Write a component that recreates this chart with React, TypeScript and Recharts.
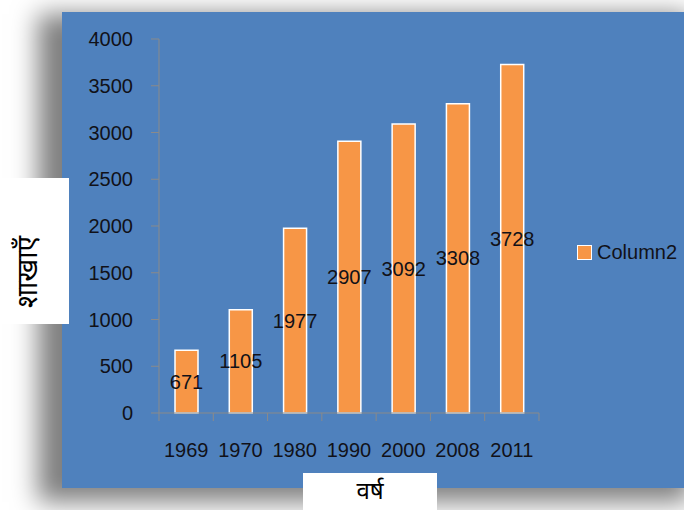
import { BarChart, Bar, XAxis, YAxis, Legend, LabelList } from 'recharts'

const years = ['1969', '1970', '1980', '1990', '2000', '2008', '2011']
const branches = [671, 1105, 1977, 2907, 3092, 3308, 3728]
const yTicks = [0, 500, 1000, 1500, 2000, 2500, 3000, 3500, 4000]
const seriesName = 'Column2'
const yTitle = 'शाखाएँ'
const xTitle = 'वर्ष'

const data = years.map((year, i) => ({ year, value: branches[i] }))

const FONT = '"Liberation Sans", Arial, sans-serif'
const HINDI = '"Noto Sans Devanagari", "Noto Sans", sans-serif'
const TEXT = '#111118'
const AXIS = '#8a8a8a'

function YearTick(props: any) {
  const { x, y, payload, index } = props
  const half = payload.offset ?? 0
  const axisY = y - 30
  const last = index === years.length - 1
  return (
    <g>
      <line x1={x - half} x2={x - half} y1={axisY} y2={axisY + 8} stroke={AXIS} />
      {last && <line x1={x + half} x2={x + half} y1={axisY} y2={axisY + 8} stroke={AXIS} />}
      <text x={x} y={y} dy="0.71em" textAnchor="middle" fill={TEXT} fontSize={20} fontFamily={FONT}>
        {payload.value}
      </text>
    </g>
  )
}

function LegendBox(props: any) {
  const item = props.payload?.[0]
  return (
    <div style={{ display: 'flex', alignItems: 'center', fontFamily: FONT, fontSize: 20, color: TEXT }}>
      <span
        style={{
          display: 'inline-block',
          width: 13,
          height: 13,
          background: '#f79646',
          border: '1px solid #fff',
          marginRight: 5,
        }}
      />
      {item ? item.value : seriesName}
    </div>
  )
}

export default function App() {
  return (
    <div style={{ position: 'absolute', left: 0, top: 0, width: 684, height: 510, background: '#fff', overflow: 'hidden' }}>
      <div
        style={{
          position: 'absolute',
          left: 62,
          top: 12,
          width: 640,
          height: 476,
          background: '#4f81bd',
          boxShadow: '-18px 8px 24px 6px rgba(0,0,0,0.5)',
        }}
      />
      <div style={{ position: 'absolute', left: 0, top: 0 }}>
        <BarChart
          width={684}
          height={510}
          data={data}
          margin={{ top: 39, right: 145, left: 0, bottom: 57 }}
        >
          <XAxis
            dataKey="year"
            height={40}
            axisLine={{ stroke: AXIS }}
            tickLine={false}
            tickSize={8}
            tickMargin={22}
            interval={0}
            tick={<YearTick />}
          />
          <YAxis
            width={159}
            domain={[0, 4000]}
            ticks={yTicks}
            interval={0}
            axisLine={{ stroke: AXIS }}
            tickLine={{ stroke: AXIS }}
            tickSize={8}
            tickMargin={18}
            tick={{ fill: TEXT, fontSize: 20, fontFamily: FONT }}
          />
          <Legend
            layout="horizontal"
            align="center"
            verticalAlign="middle"
            content={<LegendBox />}
            wrapperStyle={{ left: 577, top: 241, width: 110 }}
          />
          <Bar
            dataKey="value"
            name={seriesName}
            fill="#f79646"
            stroke="#ffffff"
            strokeWidth={1.5}
            barSize={23}
            isAnimationActive={false}
          >
            <LabelList
              dataKey="value"
              position="center"
              fill={TEXT}
              fontSize={20}
              fontFamily={FONT}
            />
          </Bar>
        </BarChart>
      </div>
      <div
        style={{
          position: 'absolute',
          left: 0,
          top: 178,
          width: 69,
          height: 146,
          background: '#fff',
        }}
      >
        <div
          style={{
            position: 'absolute',
            left: 30,
            top: 94,
            transform: 'translate(-50%, -50%) rotate(-90deg)',
            whiteSpace: 'nowrap',
            fontFamily: HINDI,
            fontSize: 28,
            color: '#000',
            lineHeight: 1,
          }}
        >
          {yTitle}
        </div>
      </div>
      <div
        style={{
          position: 'absolute',
          left: 303,
          top: 473,
          width: 134,
          height: 37,
          background: '#fff',
          textAlign: 'center',
          fontFamily: HINDI,
          fontSize: 24,
          color: '#000',
          lineHeight: '40px',
        }}
      >
        {xTitle}
      </div>
    </div>
  )
}
